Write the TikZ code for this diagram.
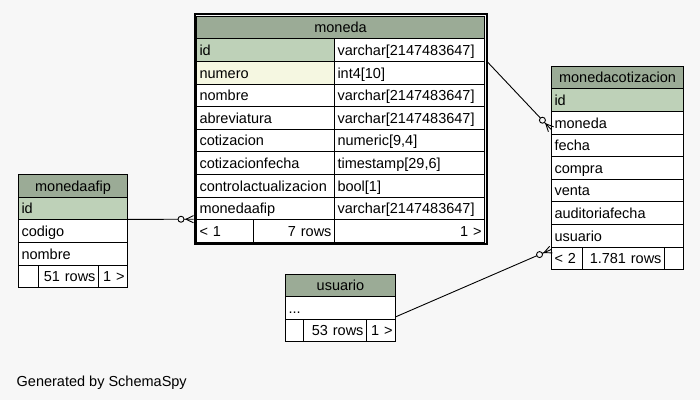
\documentclass[tikz,border=0pt]{standalone}
\usepackage{fontspec}
\setmainfont{Liberation Sans}
\usetikzlibrary{
  calc % For the crow's foot points
}

\definecolor{diagbg}{HTML}{F7F7F7}
\definecolor{headgreen}{HTML}{9BAB96}
\definecolor{pkgreen}{HTML}{BED1B8}
\definecolor{idxcream}{HTML}{F5F7E1}

% zero-or-many end: circle and crow's foot at #2
\newcommand\crowlink[2]{%
  \draw[link] (#1) -- (#2);
  \draw[link, fill=diagbg] ($(#2)!12.5pt!(#1)$) circle (3pt);
  \draw[link] ($(#2)!3.6pt!90:(#1)$) -- ($(#2)!7.5pt!(#1)$) -- ($(#2)!3.6pt!-90:(#1)$);
}

\begin{document}
\begin{tikzpicture}[
    x=1pt, y=-1pt, % pixel coordinates, y pointing down
    font=\fontsize{14.5}{17}\selectfont,
    cell/.style={draw, line width=1pt, anchor=north west, inner xsep=3pt, inner ysep=0pt,
      text height=13pt, text depth=2.4pt, minimum height=22.6pt, align=left},
    headcell/.style={cell, fill=headgreen, align=center},
    countcell/.style={cell, fill=white, align=right},
    link/.style={line width=0.9pt, black},
  ]

  % Hintergrund
  \fill[diagbg] (0,0) rectangle (700,400);
  \useasboundingbox (0,0) rectangle (700,400);

  % moneda
  \node[headcell, text width=288pt-6pt] (moneda-head) at (196,15.8) {moneda};
  \foreach \fld/\typ/\clr [count=\i from 0] in {
      id/varchar[2147483647]/pkgreen,
      numero/int4[10]/idxcream,
      nombre/varchar[2147483647]/white,
      abreviatura/varchar[2147483647]/white,
      cotizacion/{numeric[9,4]}/white,
      cotizacionfecha/{timestamp[29,6]}/white,
      controlactualizacion/bool[1]/white,
      monedaafip/varchar[2147483647]/white}
  {
    \node[cell, fill=\clr, text width=138pt-6pt] (moneda-\fld) at (196, 38.4+\i*22.6) {\fld};
    \node[cell, fill=white, text width=150pt-6pt] (moneda-\fld-type) at (334, 38.4+\i*22.6) {\typ};
  }
  \node[cell, fill=white, text width=57.3pt-6pt] (moneda-prev) at (196,219.2) {< 1};
  \node[countcell, text width=80.7pt-6pt] (moneda-rows) at (253.3,219.2) {7 rows};
  \node[countcell, text width=150pt-6pt] (moneda-next) at (334,219.2) {1 >};
  \draw[line width=2pt] ([shift={(-1.5pt,1.5pt)}]moneda-head.north west)
    rectangle ([shift={(1.5pt,-1.5pt)}]moneda-next.south east);

  % monedaafip
  \node[headcell, text width=109pt-6pt] (monedaafip-head) at (18,174.2) {monedaafip};
  \foreach \fld/\clr [count=\i from 0] in {id/pkgreen, codigo/white, nombre/white}
    \node[cell, fill=\clr, text width=109pt-6pt] (monedaafip-\fld) at (18, 196.8+\i*22.6) {\fld};
  \node[cell, fill=white, text width=20pt-6pt] (monedaafip-prev) at (18,264.6) {};
  \node[countcell, text width=60pt-6pt] (monedaafip-rows) at (38,264.6) {51 rows};
  \node[countcell, text width=29pt-6pt] (monedaafip-next) at (98,264.6) {1 >};

  % usuario
  \node[headcell, text width=110pt-6pt] (usuario-head) at (285,273.5) {usuario};
  \node[cell, fill=white, text width=110pt-6pt] (usuario-dots) at (285,296.1) {...};
  \node[cell, fill=white, text width=18pt-6pt] (usuario-prev) at (285,318.7) {};
  \node[countcell, text width=63pt-6pt] (usuario-rows) at (303,318.7) {53 rows};
  \node[countcell, text width=29pt-6pt] (usuario-next) at (366,318.7) {1 >};

  % monedacotizacion
  \node[headcell, text width=132pt-6pt] (mc-head) at (551,65.8) {monedacotizacion};
  \foreach \fld/\clr [count=\i from 0] in {id/pkgreen, moneda/white, fecha/white,
      compra/white, venta/white, auditoriafecha/white, usuario/white}
    \node[cell, fill=\clr, text width=132pt-6pt] (mc-\fld) at (551, 88.4+\i*22.6) {\fld};
  \node[cell, fill=white, text width=31.3pt-6pt] (mc-prev) at (551,246.6) {< 2};
  \node[countcell, text width=81.7pt-6pt] (mc-rows) at (582.3,246.6) {1.781 rows};
  \node[cell, fill=white, text width=19pt-6pt] (mc-next) at (664,246.6) {};

  % Verbindungen
  \coordinate (afip-out) at ([yshift=1pt]monedaafip-id.south east);
  \coordinate (afip-in) at ([xshift=-2.5pt,yshift=1pt]moneda-monedaafip.south west);
  \coordinate (cot-out) at ([xshift=2.5pt]moneda-id-type.south east);
  \coordinate (cot-in) at ([yshift=-6.5pt]mc-moneda.west);
  \coordinate (usr-out) at ([yshift=3pt]usuario-dots.south east);
  \coordinate (usr-in) at ([yshift=-2pt]mc-usuario.south west);
  \crowlink{afip-out}{afip-in}
  \crowlink{cot-out}{cot-in}
  \crowlink{usr-out}{usr-in}

  \node[anchor=base west, inner sep=0pt] (credit) at (16.5,386) {Generated by SchemaSpy};

\end{tikzpicture}
\end{document}
